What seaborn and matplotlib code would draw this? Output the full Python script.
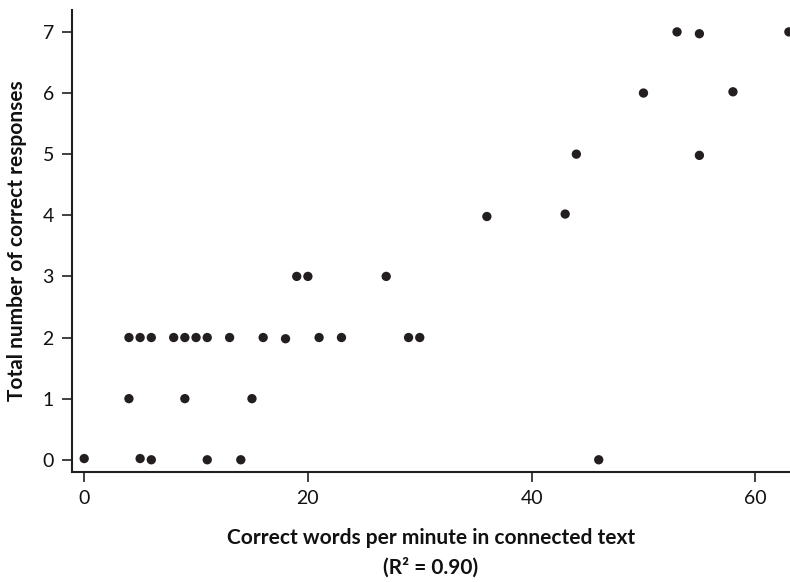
import seaborn as sns
import matplotlib.pyplot as plt
import pandas as pd

# words per minute in connected text vs correct responses
wpm = [0, 5, 6, 11, 14, 46,
       4, 9, 15,
       4, 5, 6, 8, 9, 10, 11, 13, 16, 18, 21, 23, 29, 30,
       19, 20, 27,
       36, 43,
       44, 55,
       50, 58,
       53, 55, 63]
responses = [0.02, 0.02, 0.0, 0.0, 0.0, 0.0,
             1, 1, 1,
             2, 2, 2, 2, 2, 2, 2, 2, 2, 1.98, 2, 2, 2, 2,
             3, 3, 3,
             3.98, 4.02,
             5, 4.98,
             6, 6.02,
             7, 6.97, 7]

x_ticks = [0, 20, 40, 60]
y_ticks = list(range(8))

def main():
    df = pd.DataFrame({'wpm': wpm, 'responses': responses})

    sns.set_style('ticks')
    plt.rcParams['font.family'] = ['Lato', 'DejaVu Sans']

    fig = plt.figure(figsize=(7.9, 5.82), dpi=100)
    ax = fig.add_axes([0.091, 0.189, 0.909, 0.794])

    sns.scatterplot(data=df, x='wpm', y='responses', ax=ax,
                    color='#231f20', s=45, edgecolor='none', linewidth=0)

    ax.set_xlim(-1.1, 63.1)
    ax.set_ylim(-0.2, 7.36)
    ax.set_xticks(x_ticks)
    ax.set_yticks(y_ticks)
    ax.tick_params(axis='both', direction='out', length=7, width=1.2,
                   colors='#231f20', labelcolor='#111111', labelsize=14, pad=6)

    sns.despine(ax=ax)
    for side in ['left', 'bottom']:
        ax.spines[side].set_linewidth(1.5)
        ax.spines[side].set_color('#231f20')

    ax.set_xlabel('Correct words per minute in connected text\n(R\u00b2 = 0.90)',
                  fontsize=15, fontweight='bold', linespacing=1.55,
                  labelpad=15, color='#111111')
    ax.set_ylabel('Total number of correct responses',
                  fontsize=15, fontweight='bold', labelpad=11, color='#111111')

    fig.savefig('out.png', dpi=100)

if __name__ == "__main__":
    main()
